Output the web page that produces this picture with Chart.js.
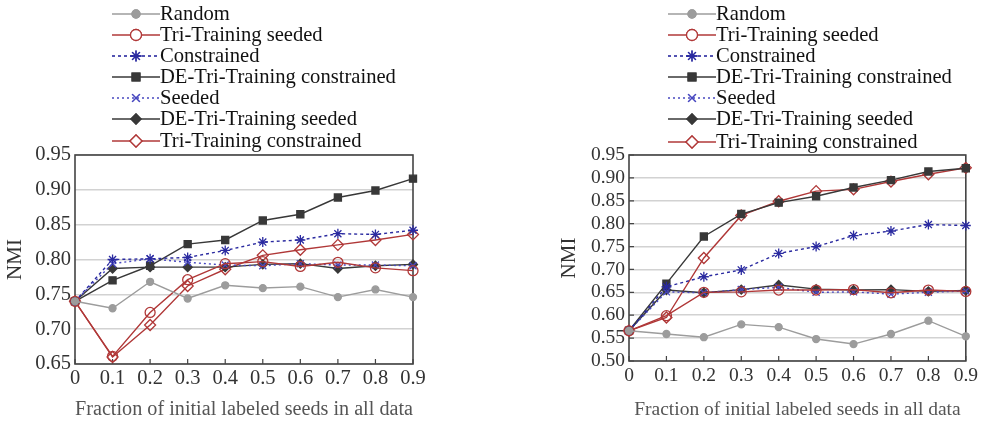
<!DOCTYPE html>
<html lang="en">
  <head>
    <meta charset="utf-8" />
    <title>NMI vs fraction of labeled seeds</title>
    <script src="https://cdn.jsdelivr.net/npm/chart.js"></script>
    <style>
      body { margin: 0; background: #fff; width: 981px; height: 422px; overflow: hidden; position: relative; }
      .chart { position: absolute; top: 0; }
      .legend { position: absolute; top: 0; font-family: "Liberation Serif", "Times New Roman", serif; font-size: 20.6px; color: #111; }
      .legend .row { position: absolute; left: 0; height: 22px; white-space: nowrap; }
      .legend canvas { position: absolute; left: 0; top: 1px; }
      .legend span { position: absolute; left: 48px; top: -1px; line-height: 22px; }
    </style>
  </head>
  <body>
    <canvas id="leftChart" class="chart" width="440" height="422" style="left:0"></canvas>
    <canvas id="rightChart" class="chart" width="427" height="422" style="left:554px"></canvas>
    <div id="leftLegend" class="legend" style="left:112px"></div>
    <div id="rightLegend" class="legend" style="left:668px"></div>

    <script>
      // x categories
      const fractions = ['0', '0.1', '0.2', '0.3', '0.4', '0.5', '0.6', '0.7', '0.8', '0.9'];
      const seriesNames = ['Random', 'Tri-Training seeded', 'Constrained', 'DE-Tri-Training constrained',
                           'Seeded', 'DE-Tri-Training seeded', 'Tri-Training constrained'];

      // left panel values
      const leftRandom          = [0.740, 0.730, 0.768, 0.744, 0.763, 0.759, 0.761, 0.746, 0.757, 0.746];
      const leftTriSeeded       = [0.740, 0.661, 0.724, 0.771, 0.794, 0.797, 0.790, 0.796, 0.788, 0.784];
      const leftConstrained     = [0.740, 0.800, 0.801, 0.803, 0.813, 0.825, 0.828, 0.837, 0.836, 0.842];
      const leftDEConstrained   = [0.740, 0.770, 0.791, 0.822, 0.828, 0.856, 0.865, 0.889, 0.899, 0.916];
      const leftSeeded          = [0.740, 0.794, 0.801, 0.796, 0.792, 0.791, 0.794, 0.792, 0.792, 0.791];
      const leftDESeeded        = [0.740, 0.787, 0.789, 0.789, 0.789, 0.793, 0.794, 0.787, 0.791, 0.793];
      const leftTriConstrained  = [0.740, 0.660, 0.706, 0.762, 0.786, 0.806, 0.814, 0.821, 0.828, 0.836];

      // right panel values
      const rightRandom         = [0.566, 0.559, 0.552, 0.580, 0.574, 0.548, 0.537, 0.559, 0.588, 0.554];
      const rightTriSeeded      = [0.566, 0.599, 0.650, 0.651, 0.655, 0.655, 0.656, 0.649, 0.655, 0.652];
      const rightConstrained    = [0.566, 0.662, 0.684, 0.699, 0.735, 0.750, 0.774, 0.784, 0.798, 0.796];
      const rightDEConstrained  = [0.566, 0.669, 0.772, 0.821, 0.846, 0.860, 0.879, 0.895, 0.914, 0.921];
      const rightSeeded         = [0.566, 0.651, 0.649, 0.656, 0.661, 0.650, 0.651, 0.646, 0.650, 0.653];
      const rightDESeeded       = [0.566, 0.655, 0.649, 0.656, 0.666, 0.657, 0.655, 0.656, 0.652, 0.654];
      const rightTriConstrained = [0.566, 0.595, 0.725, 0.818, 0.849, 0.871, 0.875, 0.892, 0.908, 0.922];

      const leftTicks = { min: 0.65, max: 0.95, step: 0.05 };
      const rightTicks = { min: 0.50, max: 0.95, step: 0.05 };

      const serif = "'Liberation Serif', 'Times New Roman', serif";

      // one style per series, same order as seriesNames
      const styles = [
        { color: '#9c9c9c', fill: '#9c9c9c', point: 'circle', r: 3.5, dash: [] },
        { color: '#b03838', fill: 'rgba(255,255,255,0)', point: 'circle', r: 5, dash: [] },
        { color: '#2a2aa0', fill: '#2a2aa0', point: 'star', r: 5, dash: [3, 3] },
        { color: '#383838', fill: '#383838', point: 'rect', r: 5, dash: [] },
        { color: '#4848c0', fill: '#4848c0', point: 'crossRot', r: 5, dash: [2, 3] },
        { color: '#383838', fill: '#383838', point: 'rectRot', r: 4.5, dash: [] },
        { color: '#b03838', fill: 'rgba(255,255,255,0)', point: 'rectRot', r: 5.5, dash: [] }
      ];

      function buildDatasets(values) {
        return values.map((v, i) => ({
          label: seriesNames[i],
          data: v,
          borderColor: styles[i].color,
          backgroundColor: styles[i].fill,
          borderWidth: 1.4,
          borderDash: styles[i].dash,
          pointStyle: styles[i].point,
          pointRadius: styles[i].r,
          pointBorderColor: styles[i].color,
          pointBackgroundColor: styles[i].fill,
          pointBorderWidth: 1.3,
          tension: 0
        }));
      }

      // box round the plot + small inward ticks
      const framePlugin = {
        id: 'frame',
        beforeDatasetsDraw(chart, args, opts) {
          const { ctx, chartArea: a } = chart;
          const x = chart.scales.x, y = chart.scales.y;
          ctx.save();
          ctx.strokeStyle = '#444';
          ctx.lineWidth = 1.6;
          ctx.strokeRect(a.left, a.top, a.right - a.left, a.bottom - a.top);
          ctx.lineWidth = 1.2;
          ctx.beginPath();
          x.ticks.forEach((t, i) => {
            const px = x.getPixelForTick(i);
            ctx.moveTo(px, a.bottom);
            ctx.lineTo(px, a.bottom - 5);
          });
          if (opts.yTicks) {
            y.ticks.forEach((t, i) => {
              const py = y.getPixelForTick(i);
              ctx.moveTo(a.left, py);
              ctx.lineTo(a.left + 5, py);
            });
          }
          ctx.stroke();
          ctx.restore();
        }
      };

      function makeChart(id, values, range, cfg) {
        const ctx = document.getElementById(id).getContext('2d');
        return new Chart(ctx, {
          type: 'line',
          data: { labels: fractions, datasets: buildDatasets(values) },
          plugins: [framePlugin],
          options: {
            responsive: false,
            animation: false,
            layout: { padding: { top: 155, right: cfg.padRight, bottom: 0, left: 0 } },
            plugins: {
              legend: { display: false },
              tooltip: { enabled: false },
              frame: { yTicks: cfg.yTicks }
            },
            scales: {
              x: {
                type: 'category',
                offset: false,
                grid: { display: false, drawTicks: false },
                border: { display: false },
                ticks: { color: '#333', padding: cfg.xPad, maxRotation: 0, autoSkip: false,
                         font: { family: serif, size: cfg.tickSize } },
                title: { display: true, text: 'Fraction of initial labeled seeds in all data',
                         color: '#555', padding: { top: 0, bottom: 0 },
                         font: { family: serif, size: cfg.titleSize } },
                afterFit(scale) { scale.height = cfg.xHeight; }
              },
              y: {
                min: range.min,
                max: range.max,
                grid: { color: '#d2d2d2', lineWidth: 1.5, drawTicks: false },
                border: { display: false },
                ticks: { stepSize: range.step, autoSkip: false, color: '#333', padding: 4,
                         font: { family: serif, size: cfg.tickSize },
                         callback: v => Number(v).toFixed(2) },
                title: { display: true, text: 'NMI', color: '#333', padding: { top: 3, bottom: 0 },
                         font: { family: serif, size: 21 } },
                afterFit(scale) { scale.width = 75; }
              }
            }
          }
        });
      }

      function drawSample(canvas, s) {
        const c = canvas.getContext('2d');
        c.strokeStyle = s.color;
        c.lineWidth = 1.6;
        c.setLineDash(s.dash);
        c.beginPath();
        c.moveTo(0, 10);
        c.lineTo(48, 10);
        c.stroke();
        c.setLineDash([]);
        c.fillStyle = s.fill === 'rgba(255,255,255,0)' ? '#fff' : s.fill;
        c.lineWidth = 1.3;
        Chart.helpers.drawPoint(c, { pointStyle: s.point, radius: s.r + 0.5, borderWidth: 1.3 }, 24, 10);
        c.fill();
        c.stroke();
      }

      function buildLegend(id, rowTops) {
        const box = document.getElementById(id);
        seriesNames.forEach((name, i) => {
          const row = document.createElement('div');
          row.className = 'row';
          row.style.top = rowTops[i] + 'px';
          const cv = document.createElement('canvas');
          cv.width = 48; cv.height = 20;
          const label = document.createElement('span');
          label.textContent = name;
          row.appendChild(cv);
          row.appendChild(label);
          box.appendChild(row);
          drawSample(cv, styles[i]);
        });
      }

      makeChart('leftChart',
        [leftRandom, leftTriSeeded, leftConstrained, leftDEConstrained, leftSeeded, leftDESeeded, leftTriConstrained],
        leftTicks, { padRight: 27, xHeight: 58, xPad: 2, tickSize: 20.5, titleSize: 20.5, yTicks: false });

      makeChart('rightChart',
        [rightRandom, rightTriSeeded, rightConstrained, rightDEConstrained, rightSeeded, rightDESeeded, rightTriConstrained],
        rightTicks, { padRight: 15, xHeight: 61, xPad: 3, tickSize: 19.5, titleSize: 19.5, yTicks: true });

      buildLegend('leftLegend', [3, 24, 45, 66, 87, 108, 130]);
      buildLegend('rightLegend', [3, 24, 45, 66, 87, 108, 131]);
    </script>
  </body>
</html>
